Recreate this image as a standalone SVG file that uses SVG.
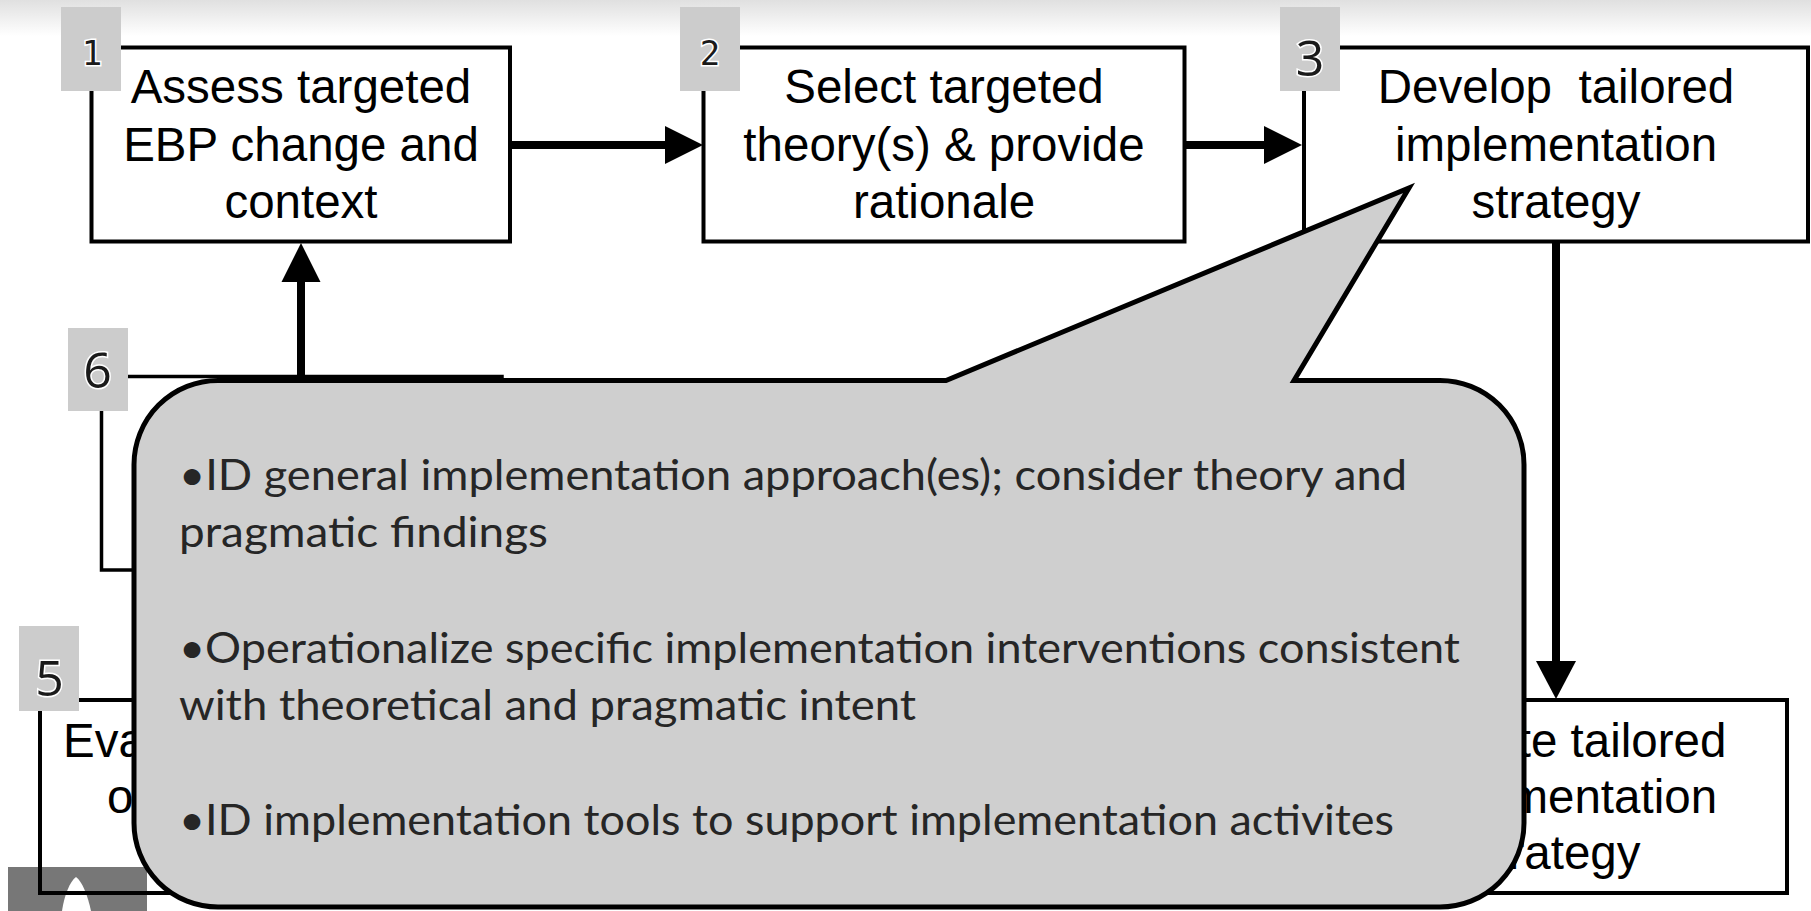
<svg xmlns="http://www.w3.org/2000/svg" width="1811" height="911" viewBox="0 0 1811 911">
  <defs>
    <linearGradient id="topShade" x1="0" y1="0" x2="0" y2="1">
      <stop offset="0" stop-color="#e0e0e0"/>
      <stop offset="1" stop-color="#ffffff"/>
    </linearGradient>
    <style>
      .box{fill:none;stroke:#000;stroke-width:4}
      .thin{fill:none;stroke:#000;stroke-width:3.5}
      .lbl{font-family:"Liberation Sans",Arial,sans-serif;font-size:47.5px;fill:#000;text-anchor:middle}
      .lbl-l{font-family:"Liberation Sans",Arial,sans-serif;font-size:47.5px;fill:#000}
      .badge{fill:#cccccc}
      .num{font-family:"Open Sans","Noto Sans",sans-serif;font-size:50px;fill:#1a1a1a;stroke:#fff;stroke-width:3;paint-order:stroke;text-anchor:middle}
      .mono{font-family:"DejaVu Sans Mono","Liberation Mono",monospace;font-size:34px}
      .wire{stroke:#000;stroke-width:8;fill:none}
      .head{fill:#000}
      .callout{fill:#cfcfcf;stroke:#000;stroke-width:5}
      .note{font-family:Lato,"Open Sans",sans-serif;font-size:43px;fill:#262626}
    </style>
  </defs>

  <!-- page background with a soft shade along the top -->
  <rect x="0" y="0" width="1811" height="911" fill="#fff"/>
  <rect x="0" y="0" width="1811" height="36" fill="url(#topShade)"/>

  <!-- small dark tab in the lower-left corner -->
  <g id="corner-tab">
    <rect x="8" y="867" width="139" height="44" fill="#777"/>
    <path d="M62 911 C64 896 70 881 76 877 C82 881 88 896 91 911 Z" fill="#fff"/>
  </g>

  <!-- connectors -->
  <g id="connectors">
    <line class="wire" x1="510" y1="145" x2="667" y2="145"/>
    <polygon class="head" points="665,126 703,145 665,164"/>
    <line class="wire" x1="1185" y1="145" x2="1266" y2="145"/>
    <polygon class="head" points="1264,126 1302,145 1264,164"/>
    <line class="wire" x1="1556" y1="243" x2="1556" y2="663"/>
    <polygon class="head" points="1536,661 1576,661 1556,699"/>
    <line class="wire" x1="301" y1="376" x2="301" y2="280"/>
    <polygon class="head" points="281.5,282 320.5,282 301,243"/>
  </g>

  <!-- step 1 -->
  <g id="step1">
    <rect class="box" x="91.5" y="47.5" width="418.5" height="194"/>
    <text class="lbl" x="301" y="103">Assess targeted</text>
    <text class="lbl" x="301" y="160.5">EBP change and</text>
    <text class="lbl" x="301" y="218">context</text>
    <rect class="badge" x="61" y="7" width="60" height="84"/>
    <text class="num mono" x="92" y="65">1</text>
  </g>

  <!-- step 2 -->
  <g id="step2">
    <rect class="box" x="703.5" y="47.5" width="481" height="194"/>
    <text class="lbl" x="944" y="103">Select targeted</text>
    <text class="lbl" x="944" y="160.5">theory(s) &amp; provide</text>
    <text class="lbl" x="944" y="218">rationale</text>
    <rect class="badge" x="680" y="7" width="60" height="84"/>
    <text class="num mono" x="710" y="65">2</text>
  </g>

  <!-- step 3 -->
  <g id="step3">
    <rect class="box" x="1304" y="47.5" width="504" height="194"/>
    <text class="lbl" x="1556" y="103" xml:space="preserve">Develop  tailored</text>
    <text class="lbl" x="1556" y="160.5">implementation</text>
    <text class="lbl" x="1556" y="218">strategy</text>
    <rect class="badge" x="1280" y="7" width="60" height="84"/>
    <text class="num" x="1310" y="76">3</text>
  </g>

  <!-- step 4 -->
  <g id="step4">
    <rect class="box" x="1325" y="700" width="462" height="193"/>
    <text class="lbl" x="1556" y="757">Execute tailored</text>
    <text class="lbl" x="1556" y="813">implementation</text>
    <text class="lbl" x="1556" y="869">strategy</text>
  </g>

  <!-- step 5 -->
  <g id="step5">
    <rect class="box" x="40" y="700" width="460" height="193"/>
    <text class="lbl-l" x="63" y="757">Eva</text>
    <text class="lbl-l" x="107" y="813">o</text>
    <rect class="badge" x="19" y="626" width="60" height="85"/>
    <text class="num" x="49.5" y="696">5</text>
  </g>

  <!-- step 6 -->
  <g id="step6">
    <rect class="thin" x="101.5" y="376.5" width="400.5" height="193.5"/>
    <rect class="badge" x="68" y="328" width="60" height="83"/>
    <text class="num" x="97.5" y="388">6</text>
  </g>

  <!-- detail callout for step 3 -->
  <g id="step3-detail">
    <path class="callout" d="M218 380.5 L946 380.5 L1409 188 L1294 380.5 L1440 380.5 A84 84 0 0 1 1524 464.5 L1524 823 A84 84 0 0 1 1440 907 L218 907 A84 84 0 0 1 134 823 L134 464.5 A84 84 0 0 1 218 380.5 Z"/>
    <text class="note" x="179" y="490" textLength="1228" lengthAdjust="spacingAndGlyphs">•ID general implementation approach(es); consider theory and</text>
    <text class="note" x="179" y="547" textLength="369" lengthAdjust="spacingAndGlyphs">pragmatic findings</text>
    <text class="note" x="179" y="663" textLength="1281" lengthAdjust="spacingAndGlyphs">•Operationalize specific implementation interventions consistent</text>
    <text class="note" x="179" y="720" textLength="737" lengthAdjust="spacingAndGlyphs">with theoretical and pragmatic intent</text>
    <text class="note" x="179" y="835" textLength="1215" lengthAdjust="spacingAndGlyphs">•ID implementation tools to support implementation activites</text>
  </g>
</svg>
